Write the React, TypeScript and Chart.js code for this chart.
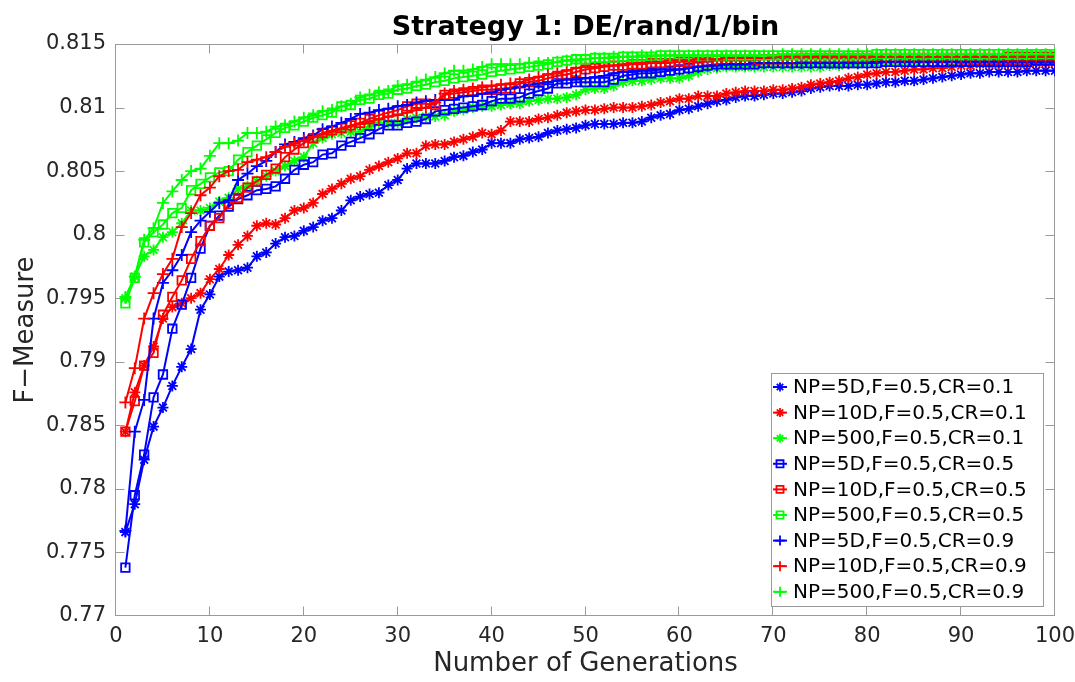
import React, { useEffect, useRef } from 'react';
import { Chart, registerables } from 'chart.js';

Chart.register(...registerables);

const generations = Array.from({ length: 100 }, (_, i) => i + 1);

const np5dCr01 = [
  0.7766, 0.7788, 0.7823, 0.7849, 0.7864, 0.7881, 0.7896, 0.7910, 0.7941, 0.7953,
  0.7967, 0.7971, 0.7972, 0.7974, 0.7983, 0.7986, 0.7993, 0.7998, 0.7999, 0.8003,
  0.8006, 0.8011, 0.8013, 0.8019, 0.8027, 0.8030, 0.8032, 0.8033, 0.8039, 0.8043,
  0.8052, 0.8056, 0.8056, 0.8056, 0.8058, 0.8061, 0.8062, 0.8065, 0.8067, 0.8072,
  0.8072, 0.8072, 0.8075, 0.8076, 0.8077, 0.8080, 0.8082, 0.8083, 0.8084, 0.8086,
  0.8087, 0.8087, 0.8087, 0.8088, 0.8088, 0.8089, 0.8092, 0.8094, 0.8095, 0.8098,
  0.8099, 0.8101, 0.8103, 0.8105, 0.8106, 0.8108, 0.8109, 0.8109, 0.8110, 0.8111,
  0.8111, 0.8112, 0.8113, 0.8115, 0.8116, 0.8117, 0.8117, 0.8117, 0.8118, 0.8118,
  0.8119, 0.8120, 0.8120, 0.8121, 0.8121, 0.8122, 0.8123, 0.8124, 0.8125, 0.8126,
  0.8127, 0.8127, 0.8128, 0.8128, 0.8128, 0.8128, 0.8129, 0.8129, 0.8129, 0.8129,
];

const np10dCr01 = [
  0.7845, 0.7876, 0.7897, 0.7912, 0.7934, 0.7943, 0.7946, 0.7950, 0.7954, 0.7965,
  0.7973, 0.7984, 0.7992, 0.7999, 0.8007, 0.8009, 0.8008, 0.8013, 0.8019, 0.8021,
  0.8025, 0.8032, 0.8036, 0.8040, 0.8044, 0.8046, 0.8051, 0.8054, 0.8057, 0.8060,
  0.8064, 0.8064, 0.8070, 0.8071, 0.8071, 0.8073, 0.8075, 0.8077, 0.8080, 0.8079,
  0.8082, 0.8089, 0.8089, 0.8089, 0.8091, 0.8092, 0.8094, 0.8096, 0.8097, 0.8098,
  0.8098, 0.8099, 0.8100, 0.8100, 0.8100, 0.8101, 0.8102, 0.8104, 0.8105, 0.8107,
  0.8107, 0.8109, 0.8109, 0.8109, 0.8111, 0.8112, 0.8113, 0.8113, 0.8113, 0.8114,
  0.8114, 0.8115, 0.8116, 0.8118, 0.8119, 0.8120, 0.8121, 0.8123, 0.8124, 0.8126,
  0.8127, 0.8128, 0.8128, 0.8129, 0.8130, 0.8130, 0.8131, 0.8131, 0.8132, 0.8133,
  0.8133, 0.8134, 0.8134, 0.8134, 0.8134, 0.8134, 0.8134, 0.8135, 0.8135, 0.8135,
];

const np500Cr01 = [
  0.7950, 0.7967, 0.7983, 0.7988, 0.7998, 0.8002, 0.8009, 0.8019, 0.8019, 0.8021,
  0.8026, 0.8029, 0.8036, 0.8038, 0.8042, 0.8046, 0.8050, 0.8054, 0.8058, 0.8061,
  0.8072, 0.8076, 0.8079, 0.8080, 0.8081, 0.8081, 0.8085, 0.8088, 0.8088, 0.8088,
  0.8091, 0.8092, 0.8093, 0.8093, 0.8094, 0.8097, 0.8098, 0.8100, 0.8101, 0.8101,
  0.8102, 0.8103, 0.8103, 0.8105, 0.8106, 0.8107, 0.8107, 0.8108, 0.8110, 0.8114,
  0.8115, 0.8115, 0.8117, 0.8120, 0.8121, 0.8121, 0.8122, 0.8123, 0.8123, 0.8123,
  0.8125, 0.8128, 0.8130, 0.8131, 0.8132, 0.8132, 0.8132, 0.8132, 0.8132, 0.8132,
  0.8132, 0.8132, 0.8132, 0.8132, 0.8132, 0.8133, 0.8133, 0.8134, 0.8134, 0.8135,
  0.8135, 0.8135, 0.8136, 0.8136, 0.8136, 0.8137, 0.8137, 0.8137, 0.8137, 0.8138,
  0.8138, 0.8138, 0.8138, 0.8138, 0.8138, 0.8138, 0.8138, 0.8138, 0.8138, 0.8138,
];

const np5dCr05 = [
  0.7738, 0.7795, 0.7827, 0.7872, 0.7890, 0.7926, 0.7945, 0.7966, 0.7989, 0.8007,
  0.8015, 0.8022, 0.8028, 0.8031, 0.8035, 0.8036, 0.8038, 0.8044, 0.8051, 0.8055,
  0.8057, 0.8063, 0.8064, 0.8070, 0.8073, 0.8076, 0.8079, 0.8083, 0.8086, 0.8086,
  0.8088, 0.8089, 0.8091, 0.8097, 0.8098, 0.8099, 0.8100, 0.8101, 0.8102, 0.8105,
  0.8107, 0.8107, 0.8108, 0.8111, 0.8113, 0.8115, 0.8119, 0.8119, 0.8120, 0.8120,
  0.8120, 0.8120, 0.8122, 0.8125, 0.8126, 0.8127, 0.8127, 0.8128, 0.8129, 0.8130,
  0.8131, 0.8132, 0.8133, 0.8134, 0.8134, 0.8134, 0.8134, 0.8134, 0.8135, 0.8135,
  0.8135, 0.8135, 0.8135, 0.8135, 0.8135, 0.8135, 0.8135, 0.8135, 0.8135, 0.8135,
  0.8135, 0.8136, 0.8136, 0.8136, 0.8136, 0.8136, 0.8136, 0.8136, 0.8136, 0.8136,
  0.8136, 0.8136, 0.8136, 0.8136, 0.8136, 0.8136, 0.8136, 0.8137, 0.8137, 0.8137,
];

const np10dCr05 = [
  0.7845, 0.7869, 0.7897, 0.7907, 0.7937, 0.7951, 0.7964, 0.7981, 0.7995, 0.8007,
  0.8013, 0.8024, 0.8029, 0.8037, 0.8042, 0.8047, 0.8052, 0.8061, 0.8067, 0.8072,
  0.8076, 0.8080, 0.8082, 0.8084, 0.8086, 0.8088, 0.8091, 0.8094, 0.8096, 0.8098,
  0.8101, 0.8103, 0.8103, 0.8102, 0.8110, 0.8111, 0.8112, 0.8113, 0.8114, 0.8114,
  0.8115, 0.8115, 0.8119, 0.8120, 0.8121, 0.8123, 0.8125, 0.8126, 0.8128, 0.8130,
  0.8131, 0.8132, 0.8133, 0.8133, 0.8134, 0.8134, 0.8135, 0.8135, 0.8135, 0.8136,
  0.8136, 0.8136, 0.8136, 0.8137, 0.8137, 0.8137, 0.8137, 0.8137, 0.8138, 0.8138,
  0.8138, 0.8138, 0.8139, 0.8139, 0.8139, 0.8139, 0.8139, 0.8139, 0.8139, 0.8139,
  0.8139, 0.8139, 0.8139, 0.8139, 0.8139, 0.8139, 0.8139, 0.8139, 0.8139, 0.8139,
  0.8139, 0.8139, 0.8139, 0.8139, 0.8140, 0.8140, 0.8140, 0.8140, 0.8140, 0.8140,
];

const np500Cr05 = [
  0.7946, 0.7966, 0.7994, 0.8002, 0.8008, 0.8017, 0.8021, 0.8035, 0.8040, 0.8045,
  0.8049, 0.8050, 0.8059, 0.8065, 0.8070, 0.8075, 0.8080, 0.8084, 0.8086, 0.8089,
  0.8092, 0.8094, 0.8096, 0.8101, 0.8102, 0.8106, 0.8107, 0.8110, 0.8111, 0.8114,
  0.8115, 0.8117, 0.8118, 0.8120, 0.8121, 0.8123, 0.8124, 0.8125, 0.8126, 0.8128,
  0.8129, 0.8130, 0.8131, 0.8132, 0.8133, 0.8134, 0.8136, 0.8137, 0.8138, 0.8138,
  0.8139, 0.8139, 0.8139, 0.8140, 0.8140, 0.8140, 0.8140, 0.8141, 0.8141, 0.8141,
  0.8141, 0.8141, 0.8141, 0.8141, 0.8141, 0.8141, 0.8141, 0.8141, 0.8141, 0.8141,
  0.8141, 0.8141, 0.8141, 0.8141, 0.8141, 0.8141, 0.8141, 0.8141, 0.8141, 0.8141,
  0.8142, 0.8142, 0.8142, 0.8142, 0.8142, 0.8142, 0.8142, 0.8142, 0.8142, 0.8142,
  0.8142, 0.8142, 0.8142, 0.8142, 0.8142, 0.8142, 0.8142, 0.8142, 0.8142, 0.8142,
];

const np5dCr09 = [
  0.7767, 0.7845, 0.7870, 0.7934, 0.7962, 0.7972, 0.7984, 0.8002, 0.8011, 0.8018,
  0.8025, 0.8027, 0.8043, 0.8048, 0.8054, 0.8058, 0.8065, 0.8071, 0.8073, 0.8076,
  0.8078, 0.8083, 0.8085, 0.8088, 0.8091, 0.8095, 0.8096, 0.8098, 0.8099, 0.8101,
  0.8102, 0.8104, 0.8105, 0.8106, 0.8106, 0.8106, 0.8109, 0.8109, 0.8111, 0.8112,
  0.8114, 0.8115, 0.8116, 0.8118, 0.8119, 0.8120, 0.8121, 0.8122, 0.8122, 0.8123,
  0.8124, 0.8125, 0.8127, 0.8128, 0.8128, 0.8129, 0.8129, 0.8130, 0.8130, 0.8130,
  0.8131, 0.8132, 0.8133, 0.8133, 0.8134, 0.8134, 0.8134, 0.8135, 0.8135, 0.8135,
  0.8135, 0.8135, 0.8135, 0.8135, 0.8135, 0.8135, 0.8135, 0.8135, 0.8135, 0.8135,
  0.8136, 0.8136, 0.8136, 0.8136, 0.8136, 0.8136, 0.8136, 0.8136, 0.8136, 0.8136,
  0.8136, 0.8136, 0.8136, 0.8136, 0.8136, 0.8136, 0.8136, 0.8136, 0.8136, 0.8136,
];

const np10dCr09 = [
  0.7868, 0.7895, 0.7934, 0.7954, 0.7969, 0.7981, 0.8006, 0.8017, 0.8031, 0.8037,
  0.8046, 0.8050, 0.8051, 0.8057, 0.8059, 0.8061, 0.8065, 0.8069, 0.8072, 0.8074,
  0.8077, 0.8079, 0.8081, 0.8083, 0.8085, 0.8087, 0.8089, 0.8091, 0.8093, 0.8094,
  0.8096, 0.8098, 0.8100, 0.8104, 0.8111, 0.8113, 0.8114, 0.8115, 0.8116, 0.8117,
  0.8118, 0.8119, 0.8120, 0.8122, 0.8124, 0.8126, 0.8127, 0.8129, 0.8131, 0.8132,
  0.8132, 0.8133, 0.8133, 0.8134, 0.8135, 0.8135, 0.8136, 0.8136, 0.8137, 0.8137,
  0.8137, 0.8138, 0.8138, 0.8138, 0.8139, 0.8139, 0.8139, 0.8139, 0.8139, 0.8140,
  0.8140, 0.8140, 0.8140, 0.8140, 0.8140, 0.8140, 0.8140, 0.8140, 0.8140, 0.8140,
  0.8140, 0.8140, 0.8140, 0.8140, 0.8140, 0.8140, 0.8140, 0.8140, 0.8140, 0.8140,
  0.8140, 0.8140, 0.8140, 0.8140, 0.8140, 0.8140, 0.8140, 0.8140, 0.8140, 0.8140,
];

const np500Cr09 = [
  0.7951, 0.7967, 0.7996, 0.8005, 0.8025, 0.8034, 0.8043, 0.8050, 0.8052, 0.8062,
  0.8072, 0.8072, 0.8074, 0.8080, 0.8080, 0.8081, 0.8085, 0.8086, 0.8089, 0.8092,
  0.8094, 0.8097, 0.8098, 0.8101, 0.8103, 0.8108, 0.8110, 0.8112, 0.8113, 0.8117,
  0.8118, 0.8120, 0.8122, 0.8124, 0.8127, 0.8129, 0.8129, 0.8130, 0.8132, 0.8134,
  0.8134, 0.8134, 0.8134, 0.8135, 0.8135, 0.8135, 0.8136, 0.8137, 0.8137, 0.8138,
  0.8139, 0.8139, 0.8140, 0.8140, 0.8140, 0.8141, 0.8141, 0.8141, 0.8141, 0.8141,
  0.8141, 0.8141, 0.8141, 0.8141, 0.8141, 0.8141, 0.8141, 0.8141, 0.8141, 0.8141,
  0.8142, 0.8142, 0.8142, 0.8142, 0.8142, 0.8142, 0.8142, 0.8142, 0.8142, 0.8142,
  0.8142, 0.8142, 0.8142, 0.8142, 0.8142, 0.8142, 0.8142, 0.8142, 0.8142, 0.8142,
  0.8142, 0.8142, 0.8142, 0.8142, 0.8142, 0.8142, 0.8142, 0.8142, 0.8142, 0.8142,
];

const seriesNames = [
  'NP=5D,F=0.5,CR=0.1',
  'NP=10D,F=0.5,CR=0.1',
  'NP=500,F=0.5,CR=0.1',
  'NP=5D,F=0.5,CR=0.5',
  'NP=10D,F=0.5,CR=0.5',
  'NP=500,F=0.5,CR=0.5',
  'NP=5D,F=0.5,CR=0.9',
  'NP=10D,F=0.5,CR=0.9',
  'NP=500,F=0.5,CR=0.9',
];
const seriesValues = [
  np5dCr01, np10dCr01, np500Cr01,
  np5dCr05, np10dCr05, np500Cr05,
  np5dCr09, np10dCr09, np500Cr09,
];
const seriesColors = ['#0000ff', '#ff0000', '#00ff00', '#0000ff', '#ff0000', '#00ff00', '#0000ff', '#ff0000', '#00ff00'];
const seriesMarkers = ['star', 'star', 'star', 'rect', 'rect', 'rect', 'cross', 'cross', 'cross'];

const xTicks = [0, 10, 20, 30, 40, 50, 60, 70, 80, 90, 100];
const xTickLabels = ['0', '10', '20', '30', '40', '50', '60', '70', '80', '90', '100'];
const yTicks = [0.77, 0.775, 0.78, 0.785, 0.79, 0.795, 0.8, 0.805, 0.81, 0.815];
const yTickLabels = ['0.77', '0.775', '0.78', '0.785', '0.79', '0.795', '0.8', '0.805', '0.81', '0.815'];

const chartTitle = 'Strategy 1: DE/rand/1/bin';
const xTitle = 'Number of Generations';
const yTitle = 'F\u2212Measure';

const FONT = '"DejaVu Sans", "Liberation Sans", sans-serif';
const TEXT = '#262626';
const AXIS = '#9a9a9a';

function markerRadius(style: string) {
  if (style === 'rect') return 6;
  if (style === 'cross') return 6;
  return 5.5;
}

function drawMarker(ctx: CanvasRenderingContext2D, style: string, x: number, y: number, r: number) {
  ctx.beginPath();
  if (style === 'rect') {
    const s = r * Math.SQRT1_2;
    ctx.rect(x - s, y - s, 2 * s, 2 * s);
  } else if (style === 'cross') {
    ctx.moveTo(x - r, y); ctx.lineTo(x + r, y);
    ctx.moveTo(x, y - r); ctx.lineTo(x, y + r);
  } else {
    ctx.moveTo(x - r, y); ctx.lineTo(x + r, y);
    ctx.moveTo(x, y - r); ctx.lineTo(x, y + r);
    const d = r * Math.SQRT1_2;
    ctx.moveTo(x - d, y - d); ctx.lineTo(x + d, y + d);
    ctx.moveTo(x - d, y + d); ctx.lineTo(x + d, y - d);
  }
  ctx.stroke();
}

const framePlugin = {
  id: 'frame',
  beforeDatasetsDraw(chart: any) {
    const { ctx, chartArea, scales } = chart;
    const { left, right, top, bottom } = chartArea;
    const L = Math.round(left) - 0.5, R = Math.round(right) - 0.5;
    const T = Math.round(top) + 0.5, B = Math.round(bottom) - 0.5;
    ctx.save();
    ctx.strokeStyle = AXIS;
    ctx.lineWidth = 1;
    ctx.strokeRect(L, T, R - L, B - T);
    const tl = 9;
    ctx.beginPath();
    xTicks.forEach((v, i) => {
      if (i === 0 || i === xTicks.length - 1) return;
      const px = Math.round(scales.x.getPixelForValue(v)) - 0.5;
      ctx.moveTo(px, B); ctx.lineTo(px, B - tl);
      ctx.moveTo(px, T); ctx.lineTo(px, T + tl);
    });
    yTicks.forEach((v, i) => {
      if (i === 0 || i === yTicks.length - 1) return;
      const py = Math.round(scales.y.getPixelForValue(v)) + 0.5;
      ctx.moveTo(L, py); ctx.lineTo(L + tl, py);
      ctx.moveTo(R, py); ctx.lineTo(R - tl, py);
    });
    ctx.stroke();
    ctx.restore();
  },
  afterDraw(chart: any) {
    const { ctx, chartArea } = chart;
    ctx.save();
    ctx.fillStyle = '#000';
    ctx.font = `bold 27px ${FONT}`;
    ctx.textAlign = 'center';
    ctx.textBaseline = 'alphabetic';
    ctx.fillText(chartTitle, (chartArea.left + chartArea.right) / 2, 35);

    const bx = 771, by = 373, bw = 272, bh = 233;
    ctx.fillStyle = '#ffffff';
    ctx.fillRect(bx, by, bw, bh);
    ctx.strokeStyle = AXIS;
    ctx.lineWidth = 1;
    ctx.strokeRect(bx + 0.5, by + 0.5, bw, bh);
    ctx.font = `20px ${FONT}`;
    ctx.textAlign = 'left';
    ctx.textBaseline = 'middle';
    seriesNames.forEach((name, i) => {
      const cy = 387 + i * 25.6;
      const c = seriesColors[i];
      ctx.strokeStyle = c;
      ctx.lineWidth = 2;
      ctx.beginPath();
      ctx.moveTo(773, cy); ctx.lineTo(787, cy);
      ctx.stroke();
      ctx.lineWidth = 1.8;
      drawMarker(ctx, seriesMarkers[i], 780, cy, markerRadius(seriesMarkers[i]) - 1);
      ctx.fillStyle = '#000';
      ctx.fillText(name, 793, cy + 1);
    });
    ctx.restore();
  },
};

export default function App() {
  const ref = useRef<HTMLCanvasElement | null>(null);
  useEffect(() => {
    if (!ref.current) return;
    const datasets = seriesNames.map((name, i) => ({
      label: name,
      data: generations.map((g, j) => ({ x: g, y: seriesValues[i][j] })),
      borderColor: seriesColors[i],
      backgroundColor: 'rgba(0,0,0,0)',
      borderWidth: 2,
      pointStyle: seriesMarkers[i],
      pointRadius: markerRadius(seriesMarkers[i]),
      pointBorderColor: seriesColors[i],
      pointBackgroundColor: 'rgba(0,0,0,0)',
      pointBorderWidth: 1.8,
      tension: 0,
      order: seriesNames.length - i,
    }));
    const chart = new Chart(ref.current, {
      type: 'line',
      data: { datasets },
      plugins: [framePlugin],
      options: {
        animation: false,
        responsive: false,
        devicePixelRatio: 1,
        layout: { padding: { left: 0, right: 20, top: 44, bottom: 0 } },
        plugins: {
          legend: { display: false },
          title: { display: false },
          tooltip: { enabled: false },
        },
        scales: {
          x: {
            type: 'linear',
            min: 0,
            max: 100,
            afterBuildTicks: (s: any) => { s.ticks = xTicks.map((v) => ({ value: v })); },
            afterFit: (s: any) => { s.height = 66; s.paddingLeft = 0; s.paddingRight = 0; },
            ticks: {
              autoSkip: false,
              maxRotation: 0,
              padding: 8,
              color: TEXT,
              font: { family: FONT, size: 21 },
              callback: (_v: any, i: number) => xTickLabels[i],
            },
            grid: { display: false, drawTicks: false },
            border: { display: false },
            title: {
              display: true,
              text: xTitle,
              color: TEXT,
              font: { family: FONT, size: 26 },
              padding: { top: 0, bottom: 2 },
            },
          },
          y: {
            type: 'linear',
            min: 0.77,
            max: 0.815,
            afterBuildTicks: (s: any) => { s.ticks = yTicks.map((v) => ({ value: v })); },
            afterFit: (s: any) => { s.width = 116; s.paddingTop = 0; s.paddingBottom = 0; },
            ticks: {
              autoSkip: false,
              padding: 10,
              color: TEXT,
              font: { family: FONT, size: 21 },
              callback: (_v: any, i: number) => yTickLabels[i],
            },
            grid: { display: false, drawTicks: false },
            border: { display: false },
            title: {
              display: true,
              text: yTitle,
              color: TEXT,
              font: { family: FONT, size: 26 },
              padding: { top: 11, bottom: 0 },
            },
          },
        },
      } as any,
    });
    return () => chart.destroy();
  }, []);
  return (
    <div style={{ position: 'absolute', left: 0, top: 0, width: 1075, height: 682, background: '#fff' }}>
      <canvas ref={ref} width={1075} height={682} style={{ display: 'block', width: 1075, height: 682 }} />
    </div>
  );
}
